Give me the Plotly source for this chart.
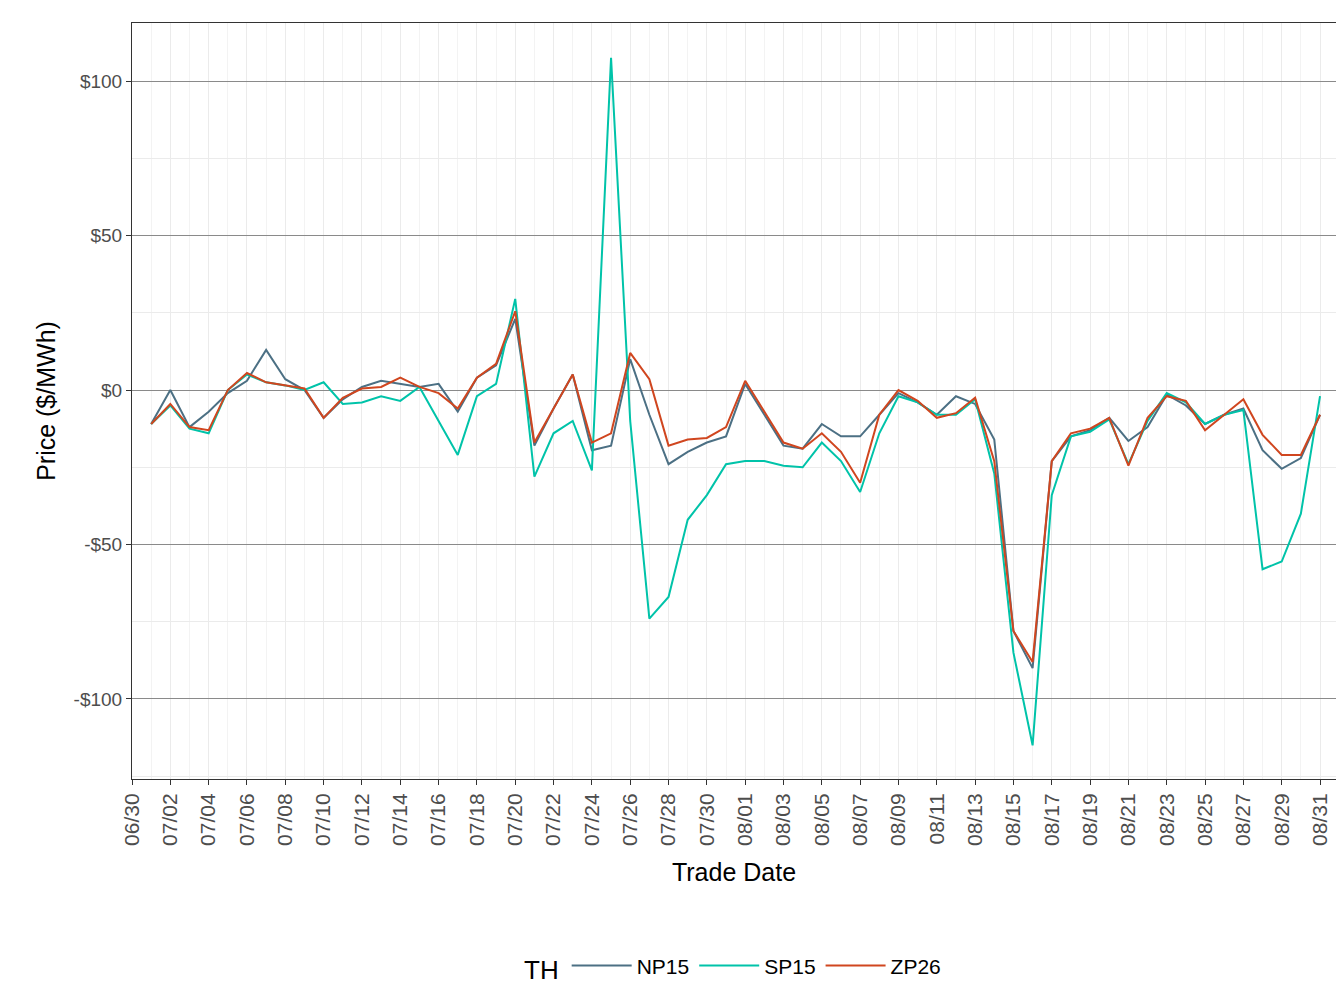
import plotly.graph_objects as go
import pandas as pd

dates = pd.date_range("2023-07-01", "2023-08-31", freq="D")
np15 = [-11,0,-12,-7,-1,3,13,3.5,0,-9,-3,1,3,2,1,2,-7,4,8,23,-18,-6,5,-19.5,-18,10,-8,-24,-20,-17,-15,
        2,-8,-18,-19,-11,-15,-15,-8,-1,-4,-8,-2,-4.5,-16,-78,-90,-23,-15,-13,-9,-16.5,-12,-1.5,-5,-11,-8,-6,-19.5,-25.5,-22,-8]
sp15 = [-11,-5,-12.5,-14,0,5,2.5,1.5,0,2.5,-4.5,-4,-2,-3.5,1,-10,-21,-2,2,29.5,-28,-14,-10,-26,107.5,-10,-74,-67,-42,-34,-24,
        -23,-23,-24.5,-25,-17,-23,-33,-14,-2,-4,-8,-8,-3,-27,-85,-115,-34,-15,-13.5,-9.5,-24,-10,-1,-4,-11,-8,-6.5,-58,-55.5,-40,-2]
zp26 = [-11,-4.5,-12,-13,0,5.5,2.5,1.5,0.5,-9,-2.5,0.5,1,4,1,-1,-6,4,8.5,25.5,-17,-6,5,-17,-14,12,3.5,-18,-16,-15.5,-12,
        3,-7,-17,-19,-14,-20,-30,-8,0,-3.5,-9,-7.5,-2.5,-23,-78,-88,-23,-14,-12.5,-9,-24.5,-9,-2,-3.5,-13,-8,-3,-14.5,-21,-21,-8]
series = {"NP15": (np15, "#4C7084"), "SP15": (sp15, "#00C3A9"), "ZP26": (zp26, "#D0461F")}

fig = go.Figure()
for name, (vals, col) in series.items():
    fig.add_trace(go.Scatter(x=dates, y=vals, mode="lines", name=name,
                             line=dict(color=col, width=2)))

tickvals = [d.strftime("%Y-%m-%d") for d in pd.date_range("2023-06-30", "2023-08-31", freq="2D")]
ticktext = [d[5:].replace("-", "/") for d in tickvals]
minor = [d.strftime("%Y-%m-%d") for d in pd.date_range("2023-07-01", "2023-08-31", freq="2D")]

fig.update_layout(
    width=1344, height=1008, plot_bgcolor="white", paper_bgcolor="white",
    font=dict(family="Liberation Sans, Arial", size=18, color="#4d4d4d"),
    margin=dict(l=124, r=16, t=15, b=237),
    showlegend=True,
    legend=dict(orientation="h", x=0.5, xanchor="center", y=-0.22, yanchor="top",
                title=dict(text="TH", font=dict(size=26, color="black")),
                font=dict(size=21, color="black"), itemwidth=60),
)
fig.update_xaxes(range=["2023-06-30", "2023-08-31 20:00"], automargin=False,
                 tickmode="array", tickvals=tickvals, ticktext=ticktext, tickangle=-90,
                 ticks="outside", ticklen=5, tickcolor="#333", tickfont=dict(size=21, color="#4d4d4d"),
                 showgrid=True, gridcolor="#ebebeb", gridwidth=1.2,
                 showline=True, linecolor="#333", mirror=True, zeroline=False,
                 minor=dict(tickmode="array", tickvals=minor, showgrid=True, gridcolor="#f3f3f3", gridwidth=1, ticks=""),
                 title=dict(text="Trade Date", font=dict(size=25, color="black"), standoff=18))
fig.update_yaxes(range=[-125.9, 118.8], tickvals=[-100, -50, 0, 50, 100], automargin=False,
                 ticktext=["-$100", "-$50", "$0", "$50", "$100"],
                 ticks="outside", ticklen=5, tickcolor="#333", tickfont=dict(size=19, color="#4d4d4d"),
                 showgrid=True, gridcolor="#8a8a8a", gridwidth=1,
                 minor=dict(tickmode="array", tickvals=[-125, -75, -25, 25, 75], showgrid=True, gridcolor="#ebebeb", gridwidth=1, ticks=""),
                 showline=True, linecolor="#333", mirror=True, zeroline=False,
                 title=dict(text="Price ($/MWh)", font=dict(size=25, color="black"), standoff=10))
fig.write_html("out.html")
